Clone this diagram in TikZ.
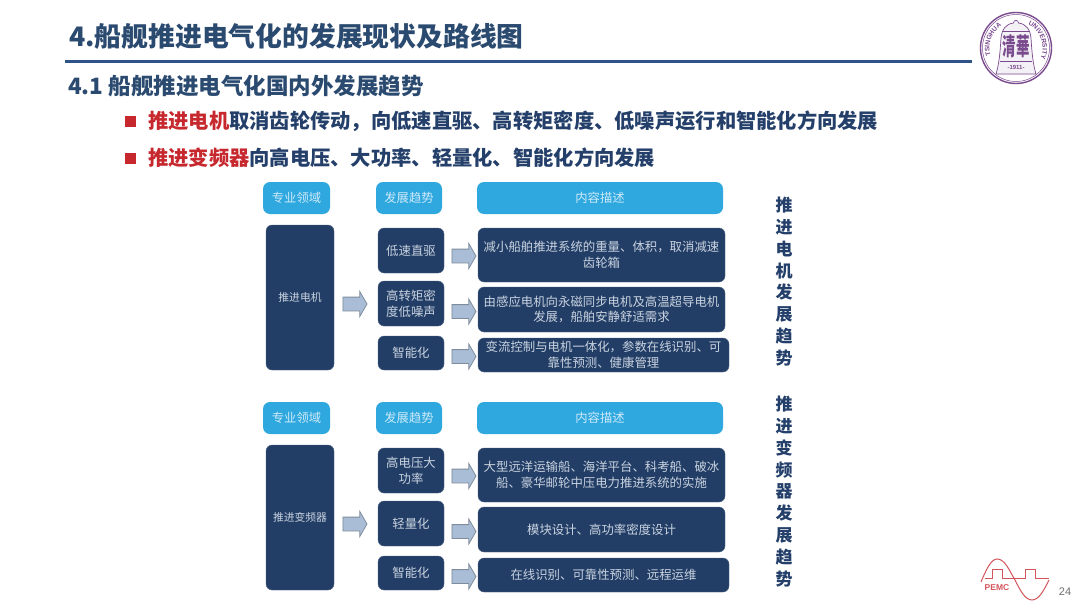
\documentclass[tikz,border=0pt]{standalone}
\usepackage{fontspec}
\setmainfont{Noto Sans CJK SC}
\newfontfamily\latinlogo{Liberation Sans}
\usetikzlibrary{shapes.arrows,decorations.text}
\definecolor{titlecol}{HTML}{2B4A70}
\definecolor{rulecol}{HTML}{2F5288}
\definecolor{bodycol}{HTML}{24406A}
\definecolor{redcol}{HTML}{C6282E}
\definecolor{headcol}{HTML}{2FA8E0}
\definecolor{darkcol}{HTML}{233E66}
\definecolor{boxtext}{HTML}{C9D3E0}
\definecolor{headtext}{HTML}{CFEAF8}
\definecolor{arrowfill}{HTML}{A9BDD6}
\definecolor{arrowline}{HTML}{7E8C9C}
\definecolor{sealcol}{HTML}{7A4A8E}
\definecolor{pemccol}{HTML}{D2555C}
\definecolor{pagecol}{HTML}{707070}
\tikzset{
  headbox/.style={fill=headcol,draw=none,rounded corners=7pt,text=headtext,font=\fontsize{12.3}{15.7}\selectfont,align=center,inner sep=0pt},
  darkbox/.style={fill=darkcol,draw=darkcol!80!white,line width=.4pt,rounded corners=6pt,text=boxtext,font=\fontsize{12.4}{15.7}\selectfont,align=center,inner sep=0pt},
  leftbox/.style={darkbox,font=\fontsize{10.8}{13}\selectfont},
  blockarrow/.style={single arrow,draw=arrowline,fill=arrowfill,line width=.8pt,minimum height=24pt,single arrow head extend=5.5pt,single arrow tip angle=120,inner xsep=0pt,inner ysep=6.5pt,text height=0pt,text depth=0pt},
  sidetext/.style={font=\fontsize{17}{21.8}\bfseries\selectfont,text=bodycol,align=center,inner sep=0pt},
  bulletsq/.style={fill=redcol,draw=none,minimum size=11pt,inner sep=0pt},
  linetext/.style={anchor=west,inner sep=0pt,text=bodycol}
}
\newcommand{\pbox}[7]{\node[#1,minimum width={#4-#2},minimum height={#5-#3}] (#6) at ({(#2+#4)/2},{(#3+#5)/2}) {#7};}
\newcommand{\parrow}[3]{\node[blockarrow] (#1) at (#2,#3) {};}
\begin{document}
\begin{tikzpicture}[x=1pt,y=-1pt]
\useasboundingbox (0,0) rectangle (1080,605);
\fill[white] (0,0) rectangle (1080,605);

% title area
\node[anchor=west,inner sep=0pt,text=titlecol,font=\fontsize{26.8}{30}\bfseries\selectfont] (title) at (69,36) {4.船舰推进电气化的发展现状及路线图};
\coordinate (ruleL) at (65,61);
\coordinate (ruleR) at (972,61);
\draw[rulecol,line width=3pt] (ruleL) -- (ruleR);
\node[anchor=west,inner sep=0pt,text=titlecol,font=\fontsize{22.5}{26}\bfseries\selectfont] (sub) at (68,86) {4.1 船舰推进电气化国内外发展趋势};
\node[bulletsq] (b1) at (130.5,121.5) {};
\node[bulletsq] (b2) at (130.5,158) {};
\node[linetext,font=\fontsize{20.28}{24}\bfseries\selectfont] (t1) at (148,121.5) {\textcolor{redcol}{推进电机}取消齿轮传动，向低速直驱、高转矩密度、低噪声运行和智能化方向发展};
\node[linetext,font=\fontsize{20.28}{24}\bfseries\selectfont] (t2) at (148,158) {\textcolor{redcol}{推进变频器}向高电压、大功率、轻量化、智能化方向发展};

% table 1
\pbox{headbox}{263}{182}{330}{214}{a1}{专业领域}
\pbox{headbox}{376}{182}{442}{214}{a2}{发展趋势}
\pbox{headbox}{477}{182}{723}{214}{a3}{内容描述}
\pbox{leftbox}{266}{225}{334}{370}{a4}{推进电机}
\pbox{darkbox}{378}{228}{444}{273}{a5}{低速直驱}
\pbox{darkbox}{378}{281}{444}{326}{a6}{高转矩密\\度低噪声}
\pbox{darkbox}{378}{336}{444}{370}{a7}{智能化}
\pbox{darkbox}{478}{228}{725}{282}{a8}{减小船舶推进系统的重量、体积，取消减速\\齿轮箱}
\pbox{darkbox}{478}{287}{725}{332}{a9}{由感应电机向永磁同步电机及高温超导电机\\发展，船舶安静舒适需求}
\pbox{darkbox}{478}{338}{729}{372}{a10}{变流控制与电机一体化，参数在线识别、可\\靠性预测、健康管理}
\parrow{ar1}{353}{304}
\parrow{ar2}{462}{256}
\parrow{ar3}{462}{311.5}
\parrow{ar4}{462}{356.5}

% table 2
\pbox{headbox}{263}{402}{330}{434}{c1}{专业领域}
\pbox{headbox}{376}{402}{442}{434}{c2}{发展趋势}
\pbox{headbox}{477}{402}{723}{434}{c3}{内容描述}
\pbox{leftbox}{266}{445}{334}{590}{c4}{推进变频器}
\pbox{darkbox}{378}{448}{444}{493}{c5}{高电压大\\功率}
\pbox{darkbox}{378}{501}{444}{546}{c6}{轻量化}
\pbox{darkbox}{378}{556}{444}{590}{c7}{智能化}
\pbox{darkbox}{478}{448}{725}{502}{c8}{大型远洋运输船、海洋平台、科考船、破冰\\船、豪华邮轮中压电力推进系统的实施}
\pbox{darkbox}{478}{507}{725}{552}{c9}{模块设计、高功率密度设计}
\pbox{darkbox}{478}{558}{729}{592}{c10}{在线识别、可靠性预测、远程运维}
\parrow{cr1}{353}{524}
\parrow{cr2}{462}{476}
\parrow{cr3}{462}{531.5}
\parrow{cr4}{462}{576.5}

% side labels
\node[sidetext] (s1) at (784,281.5) {推\\进\\电\\机\\发\\展\\趋\\势};
\node[sidetext] (s2) at (784,491.5) {推\\进\\变\\频\\器\\发\\展\\趋\\势};

% university seal
\begin{scope}[shift={(1016,48)},x=1pt,y=1pt]
  \draw[sealcol,line width=1.4pt] (0,0) circle[radius=35.5];
  \draw[sealcol,line width=.5pt] (0,0) circle[radius=33.5];
  \draw[sealcol,line width=.7pt,fill=sealcol!8]
    (-2.5,25) .. controls (-2.5,28.5) and (2.5,28.5) .. (2.5,25)
    .. controls (10,24) and (14,19) .. (15,10)
    .. controls (16,-6) and (17,-16) .. (20,-26)
    -- (-20,-26)
    .. controls (-17,-16) and (-16,-6) .. (-15,10)
    .. controls (-14,19) and (-10,24) .. (-2.5,25) -- cycle;
  \draw[sealcol,line width=.5pt] (-14,17) -- (14,17);
  \draw[sealcol,line width=.5pt] (-16,-13) -- (16,-13);
  \node[text=sealcol,inner sep=0pt,font=\fontsize{13.5}{15}\bfseries\selectfont] (seal) at (0,2) {\scalebox{1}[1.8]{清華}};
  \node[text=sealcol,inner sep=0pt,font=\latinlogo\fontsize{6}{7}\bfseries\selectfont] (year) at (0,-19) {-1911-};
  \path[decorate,decoration={text along path,text color=sealcol,text align=center,
    text={|\latinlogo\fontsize{6.6}{8}\bfseries\selectfont|TSINGHUA}}]
    (215:26.5) arc[start angle=215,end angle=105,radius=26.5];
  \path[decorate,decoration={text along path,text color=sealcol,text align=center,
    text={|\latinlogo\fontsize{6.6}{8}\bfseries\selectfont|UNIVERSITY}}]
    (75:26.5) arc[start angle=75,end angle=-35,radius=26.5];
\end{scope}

% PEMC logo
\coordinate (p0) at (981,582);
\draw[pemccol,line width=1pt] (p0) .. controls (986,570) and (991,559) .. (997,559)
  .. controls (1005,559) and (1009,570) .. (1015,580)
  .. controls (1020,590) and (1025,600) .. (1032,600)
  .. controls (1039,600) and (1044,590) .. (1049,580);
\draw[pemccol,line width=1pt] (985,578) -- (992,578) -- (992,569) -- (1002,569) -- (1002,578) -- (1025,578) -- (1025,569) -- (1035,569) -- (1035,578) -- (1049,578);
\node[text=pemccol,inner sep=0pt,font=\latinlogo\fontsize{8.5}{10}\bfseries\selectfont] (pemc) at (997,588) {PEMC};
\node[text=pagecol,inner sep=0pt,font=\latinlogo\fontsize{11}{13}\selectfont] (page) at (1065,592) {24};
\end{tikzpicture}
\end{document}
